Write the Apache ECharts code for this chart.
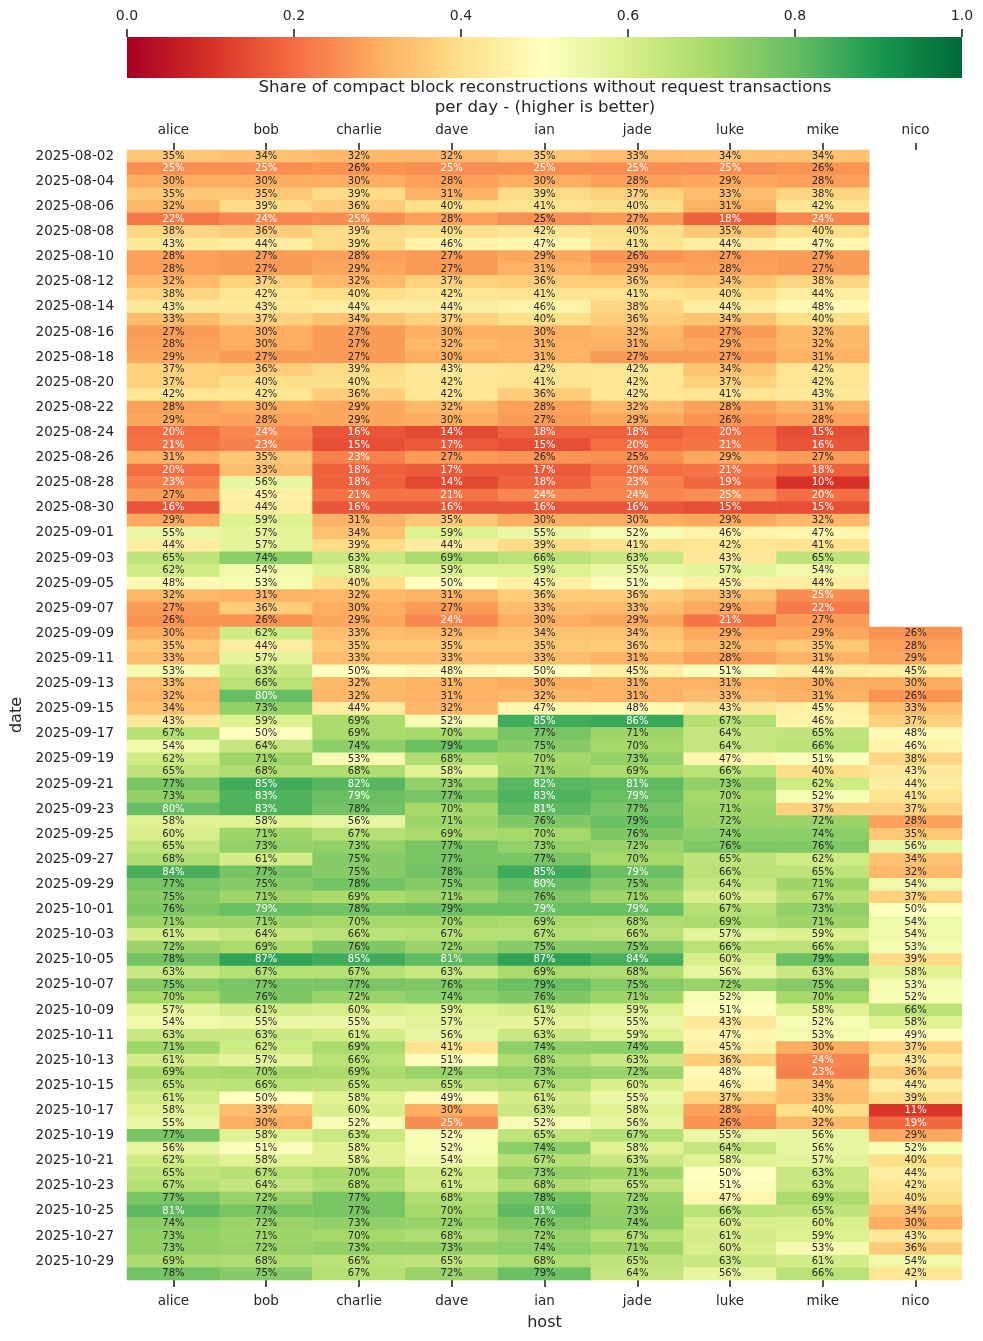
<!DOCTYPE html>
<html>
<head>
<meta charset="utf-8">
<script src="https://cdn.jsdelivr.net/npm/echarts@6/dist/echarts.min.js"></script>
<style>
  html, body { margin: 0; padding: 0; background: #fff; }
  #chart { width: 983px; height: 1341px; }
</style>
</head>
<body>
<div id="chart"></div>
<script>
// hosts on the x axis
var hosts = ['alice', 'bob', 'charlie', 'dave', 'ian', 'jade', 'luke', 'mike', 'nico'];

// one day per row, 2025-08-02 .. 2025-10-30
var dates = [];
for (var d = new Date(Date.UTC(2025, 7, 2)); dates.length < 90; d.setUTCDate(d.getUTCDate() + 1)) {
    dates.push(d.toISOString().slice(0, 10));
}

// share (%) per host and day
var alice = [35, 25, 30, 35, 32, 22, 38, 43, 28, 28,
    32, 38, 43, 33, 27, 28, 29, 37, 37, 42,
    28, 29, 20, 21, 31, 20, 23, 27, 16, 29,
    55, 44, 65, 62, 48, 32, 27, 26, 30, 35,
    33, 53, 33, 32, 34, 43, 67, 54, 62, 65,
    77, 73, 80, 58, 60, 65, 68, 84, 77, 75,
    76, 71, 61, 72, 78, 63, 75, 70, 57, 54,
    63, 71, 61, 69, 65, 61, 58, 55, 77, 56,
    62, 65, 67, 77, 81, 74, 73, 73, 69, 78];
var bob = [34, 25, 30, 35, 39, 24, 36, 44, 27, 27,
    37, 42, 43, 37, 30, 30, 27, 36, 40, 42,
    30, 28, 24, 23, 35, 33, 56, 45, 44, 59,
    57, 57, 74, 54, 53, 31, 36, 26, 62, 44,
    57, 63, 66, 80, 73, 59, 50, 64, 71, 68,
    85, 83, 83, 58, 71, 73, 61, 77, 75, 71,
    79.4, 71, 64, 69, 87, 67, 77, 76, 61, 55,
    63, 62, 57, 70, 66, 50, 33, 30, 58, 51,
    58, 67, 64, 72, 77, 72, 71, 72, 68, 75];
var charlie = [32, 26, 30, 39, 36, 25, 39, 39, 28, 29,
    32, 40, 44, 34, 27, 27, 27, 39, 40, 36,
    29, 29, 16, 15, 23, 18, 18, 21, 16, 31,
    34, 39, 63, 58, 40, 32, 30, 29, 33, 35,
    33, 50, 32, 32, 44, 69, 69, 74, 53, 68,
    82, 79.4, 78, 56, 67, 73, 75, 75, 78, 69,
    78, 70, 66, 76, 85, 67, 77, 72, 60, 55,
    61, 69, 66, 69, 65, 58, 60, 52, 63, 58,
    58, 70, 68, 77, 77, 73, 70, 73, 66, 67];
var dave = [32, 25, 28, 31, 40, 28, 40, 46, 27, 27,
    37, 42, 44, 37, 30, 32, 30, 43, 42, 42,
    32, 30, 14, 17, 27, 17, 14, 21, 16, 35,
    59, 44, 69, 59, 50, 31, 27, 24, 32, 35,
    33, 48, 31, 31, 32, 52, 70, 79, 68, 58,
    73, 77, 70, 71, 69, 77, 77, 78, 75, 71,
    79, 70, 67, 72, 81, 63, 76, 74, 59, 57,
    56, 41, 51, 72, 65, 49, 30, 25, 52, 52,
    54, 62, 61, 68, 70, 72, 68, 73, 65, 72];
var ian = [35, 25, 30, 39, 41, 25.4, 42, 47, 29, 31,
    36, 41, 46, 40, 30, 31, 31, 42, 41, 36,
    28, 27, 18, 15, 26, 17, 18, 24, 16, 30,
    55, 39, 66, 59, 45, 36, 33, 30, 34, 35,
    33, 50, 30, 32, 47, 85, 77, 75, 70, 71,
    82, 83, 81, 76, 70, 73, 77, 85, 80, 76,
    79.4, 69, 67, 75, 87, 69, 79, 76, 61, 57,
    63, 74, 68, 73, 67, 61, 63, 52, 65, 74,
    67, 73, 68, 78, 81, 76, 72, 74, 68, 79];
var jade = [33, 25, 28, 37, 40, 27, 40, 41, 26, 29,
    36, 41, 38, 36, 32, 31, 27, 42, 42, 42,
    32, 29, 18, 20, 25.4, 20, 23, 24, 16, 30,
    52, 41, 63, 55, 51, 36, 33, 29, 34, 36,
    31, 45, 31, 31, 48, 86, 71, 70, 73, 69,
    81, 79.4, 77, 79, 76, 72, 70, 79.4, 75, 71,
    79.4, 68, 66, 75, 84, 68, 75, 71, 59, 55,
    59, 74, 63, 72, 60, 55, 58, 56, 67, 58,
    63, 71, 65, 72, 73, 74, 67, 71, 65, 64];
var luke = [34, 25, 29, 33, 31, 18, 35, 44, 27, 28,
    34, 40, 44, 34, 27, 29, 27, 34, 37, 41,
    28, 26, 20, 21, 29, 21, 19, 25, 15, 29,
    46, 42, 43, 57, 45, 33, 29, 21, 29, 32,
    28, 51, 31, 33, 43, 67, 64, 64, 47, 66,
    73, 70, 71, 72, 74, 76, 65, 66, 64, 60,
    67, 69, 57, 66, 60, 56, 72, 52, 51, 43,
    47, 45, 36, 48, 46, 37, 28, 26, 55, 64,
    58, 50, 51, 47, 66, 60, 61, 60, 63, 56];
var mike = [34, 26, 28, 38, 42, 24, 40, 47, 27, 27,
    38, 44, 48, 40, 32, 32, 31, 42, 42, 43,
    31, 28, 15, 16, 27, 18, 10, 20, 15, 32,
    47, 41, 65, 54, 44, 25, 22, 27, 29, 35,
    31, 44, 30, 31, 45, 46, 65, 66, 51, 40,
    62, 52, 37, 72, 74, 76, 62, 65, 71, 67,
    73, 71, 59, 66, 79, 63, 75, 70, 58, 52,
    53, 30, 24, 23, 34, 33, 40, 32, 56, 56,
    57, 63, 63, 69, 65, 60, 59, 53, 61, 66];
var nico = [null, null, null, null, null, null, null, null, null, null,
    null, null, null, null, null, null, null, null, null, null,
    null, null, null, null, null, null, null, null, null, null,
    null, null, null, null, null, null, null, null, 26, 28,
    29, 45, 30, 26, 33, 37, 48, 46, 38, 43,
    44, 41, 37, 28, 35, 56, 34, 32, 54, 37,
    50, 54, 54, 53, 39, 58, 53, 52, 66, 58,
    49, 37, 43, 36, 44, 39, 11, 19, 29, 52,
    40, 44, 42, 40, 34, 30, 43, 36, 54, 42];

var columns = [alice, bob, charlie, dave, ian, jade, luke, mike, nico];

// RdYlGn
var rdylgn = ['#a50026', '#d73027', '#f46d43', '#fdae61', '#fee08b', '#ffffbf',
    '#d9ef8b', '#a6d96a', '#66bd63', '#1a9850', '#006837'];

var textColor = '#262626';
var font = 'DejaVu Sans';

var heat = [];
columns.forEach(function (col, i) {
    col.forEach(function (v, j) {
        if (v == null) return;
        var light = v <= 25 || v > 79;
        heat.push({ value: [i, j, v], label: { color: light ? '#ffffff' : textColor } });
    });
});

var chart = echarts.init(document.getElementById('chart'), null, { renderer: 'canvas' });

var map = { left: 127, top: 150, width: 835, height: 1130 };
var barBox = { left: 127, top: 37, width: 835, height: 41 };

var tickStyle = { color: textColor, width: 1.6 };
var catTick = { show: true, alignWithLabel: true, length: 7, lineStyle: tickStyle };
var noLabel = { show: false };

var option = {
    backgroundColor: '#ffffff',
    animation: false,
    textStyle: { fontFamily: font, color: textColor },
    title: {
        text: 'Share of compact block reconstructions without request transactions\nper day - (higher is better)',
        left: 540,
        top: 73,
        textAlign: 'center',
        textStyle: { fontFamily: font, fontSize: 16.6, fontWeight: 'normal', color: textColor, lineHeight: 20 }
    },
    grid: [
        map,
        barBox,
        // thin bands whose bottom edges carry the upper tick marks
        { left: map.left, top: map.top - 7 - 5, width: map.width, height: 5 },
        { left: barBox.left, top: barBox.top - 8 - 5, width: barBox.width, height: 5 }
    ],
    graphic: [{
        type: 'rect',
        shape: { x: barBox.left, y: barBox.top, width: barBox.width, height: barBox.height },
        style: {
            fill: new echarts.graphic.LinearGradient(0, 0, 1, 0, rdylgn.map(function (c, k) {
                return { offset: k / (rdylgn.length - 1), color: c };
            }))
        },
        z: 1
    }],
    xAxis: [
        {
            type: 'category', gridIndex: 0, data: hosts, position: 'bottom',
            axisLine: { show: false },
            axisTick: catTick,
            axisLabel: { fontSize: 13.5, color: textColor, margin: 14, fontFamily: font },
            splitLine: { show: false },
            name: 'host', nameLocation: 'middle', nameGap: 35,
            nameTextStyle: { fontSize: 16, color: textColor, fontFamily: font }
        },
        {
            type: 'category', gridIndex: 0, data: hosts, position: 'top',
            axisLine: { show: false },
            axisTick: { show: false },
            axisLabel: { fontSize: 13.5, color: textColor, margin: 13, fontFamily: font },
            splitLine: { show: false }
        },
        {
            type: 'value', gridIndex: 1, position: 'top', min: 0, max: 1, interval: 0.2,
            axisLine: { show: false },
            axisTick: { show: false },
            axisLabel: {
                fontSize: 14, color: textColor, margin: 14, fontFamily: font,
                showMinLabel: true, showMaxLabel: true,
                formatter: function (v) { return v.toFixed(1); }
            },
            splitLine: { show: false }
        },
        {
            type: 'category', gridIndex: 2, data: hosts, position: 'bottom',
            axisLine: { show: false },
            axisTick: catTick,
            axisLabel: noLabel,
            splitLine: { show: false }
        },
        {
            type: 'value', gridIndex: 3, position: 'bottom', min: 0, max: 1, interval: 0.2,
            axisLine: { show: false },
            axisTick: { show: true, length: 8, lineStyle: tickStyle },
            axisLabel: noLabel,
            splitLine: { show: false }
        }
    ],
    yAxis: [
        {
            type: 'category', gridIndex: 0, data: dates, inverse: true,
            axisLine: { show: false },
            axisTick: { show: false },
            axisLabel: { interval: 1, fontSize: 13.5, color: textColor, margin: 13, fontFamily: font },
            splitLine: { show: false },
            name: 'date', nameLocation: 'middle', nameGap: 100, nameRotate: 90,
            nameTextStyle: { fontSize: 16, color: textColor, fontFamily: font }
        },
        { type: 'value', gridIndex: 1, show: false, min: 0, max: 1 },
        { type: 'value', gridIndex: 2, show: false, min: 0, max: 1 },
        { type: 'value', gridIndex: 3, show: false, min: 0, max: 1 }
    ],
    visualMap: {
        type: 'continuous',
        show: false,
        min: 0,
        max: 100,
        seriesIndex: 0,
        dimension: 2,
        inRange: { color: rdylgn }
    },
    series: [{
        type: 'heatmap',
        xAxisIndex: 0,
        yAxisIndex: 0,
        data: heat,
        progressive: 0,
        itemStyle: { borderWidth: 0 },
        emphasis: { disabled: true },
        label: {
            show: true,
            fontSize: 10,
            fontFamily: font,
            formatter: function (p) { return Math.round(p.value[2]) + '%'; }
        }
    }]
};

chart.setOption(option);
</script>
</body>
</html>
